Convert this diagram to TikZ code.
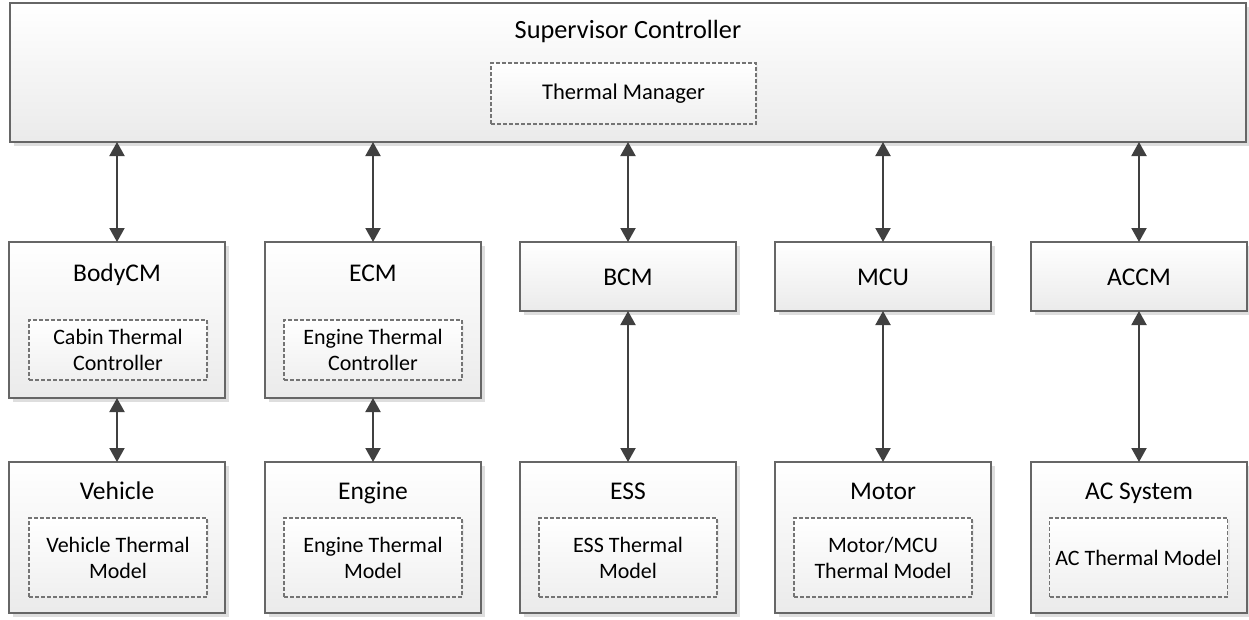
\documentclass[tikz,border=0pt]{standalone}
\usepackage{fontspec}
\setmainfont{Carlito}
\usetikzlibrary{arrows.meta,shadows}
\definecolor{edgegray}{HTML}{666666}
\definecolor{dashgray}{HTML}{747474}
\definecolor{linkgray}{HTML}{404040}
\tikzset{
  blk/.style={draw=edgegray, line width=1.3pt, top color=white, bottom color=black!8,
    minimum width=216pt, inner sep=0pt, outer sep=0pt,
    drop shadow={shadow xshift=3.5pt, shadow yshift=-3.5pt, fill=black!13, opacity=1}},
  sub/.style={draw=dashgray, line width=1.1pt, dash pattern=on 4pt off 2pt,
    top color=white, bottom color=black!6, minimum width=178pt, inner sep=0pt,
    align=center, font=\fontsize{22}{26}\selectfont,
    drop shadow={shadow xshift=2pt, shadow yshift=-2pt, fill=black!8, opacity=1}},
  ttl/.style={font=\fontsize{25.5}{30}\selectfont, inner sep=0pt, anchor=base},
  link/.style={draw=linkgray, line width=2pt,
    {Triangle[length=14pt,width=15pt]}-{Triangle[length=14pt,width=15pt]}},
}
\begin{document}
\begin{tikzpicture}[x=1pt,y=-1pt]
\useasboundingbox (0,0) rectangle (1249,619);

% supervisor
\node[blk, minimum width=1236pt, minimum height=139pt] (sup) at (628,72.5) {};
\node[ttl, font=\fontsize{26.3}{30}\selectfont] (tsup) at (628,38) {Supervisor Controller};
\node[sub, minimum width=265pt, minimum height=61pt, font=\fontsize{22.5}{26}\selectfont] (tm) at (623.5,93.5) {Thermal Manager};

% controllers
\node[blk, minimum height=156pt] (body) at (117,320) {};
\node[blk, minimum height=156pt] (ecm) at (373,320) {};
\node[blk, minimum height=69pt] (bcm) at (628,276.5) {};
\node[blk, minimum height=69pt] (mcu) at (883,276.5) {};
\node[blk, minimum height=69pt] (accm) at (1139,276.5) {};

\node[ttl] (tbody) at (117,281) {BodyCM};
\node[ttl] (tecm) at (373,281) {ECM};
\node[ttl] (tbcm) at (628,285) {BCM};
\node[ttl] (tmcu) at (883,285) {MCU};
\node[ttl] (taccm) at (1139,285) {ACCM};

\node[sub, minimum height=60pt] (cabin) at (118,350) {Cabin Thermal\\Controller};
\node[sub, minimum height=60pt] (engc) at (373,350) {Engine Thermal\\Controller};

% plants
\node[blk, minimum height=151pt] (veh) at (117,537.5) {};
\node[blk, minimum height=151pt] (eng) at (373,537.5) {};
\node[blk, minimum height=151pt] (ess) at (628,537.5) {};
\node[blk, minimum height=151pt] (mot) at (883,537.5) {};
\node[blk, minimum height=151pt] (acs) at (1139,537.5) {};

\node[ttl] (tveh) at (117,499) {Vehicle};
\node[ttl] (teng) at (373,499) {Engine};
\node[ttl] (tess) at (628,499) {ESS};
\node[ttl] (tmot) at (883,499) {Motor};
\node[ttl] (tacs) at (1139,499) {AC System};

\node[sub, minimum height=79pt] (vehm) at (118,557.5) {Vehicle Thermal\\Model};
\node[sub, minimum height=79pt] (engm) at (373,557.5) {Engine Thermal\\Model};
\node[sub, minimum height=79pt] (essm) at (628,557.5) {ESS Thermal\\Model};
\node[sub, minimum height=79pt] (motm) at (883,557.5) {Motor/MCU\\Thermal Model};
\node[sub, minimum height=79pt] (acsm) at (1138.5,557.5) {AC Thermal Model};

% links
\foreach \n in {body,ecm,bcm,mcu,accm}
  \draw[link] (sup.south -| \n.north) -- (\n.north);
\draw[link] (body.south) -- (veh.north);
\draw[link] (ecm.south) -- (eng.north);
\draw[link] (bcm.south) -- (ess.north);
\draw[link] (mcu.south) -- (mot.north);
\draw[link] (accm.south) -- (acs.north);
\end{tikzpicture}
\end{document}
